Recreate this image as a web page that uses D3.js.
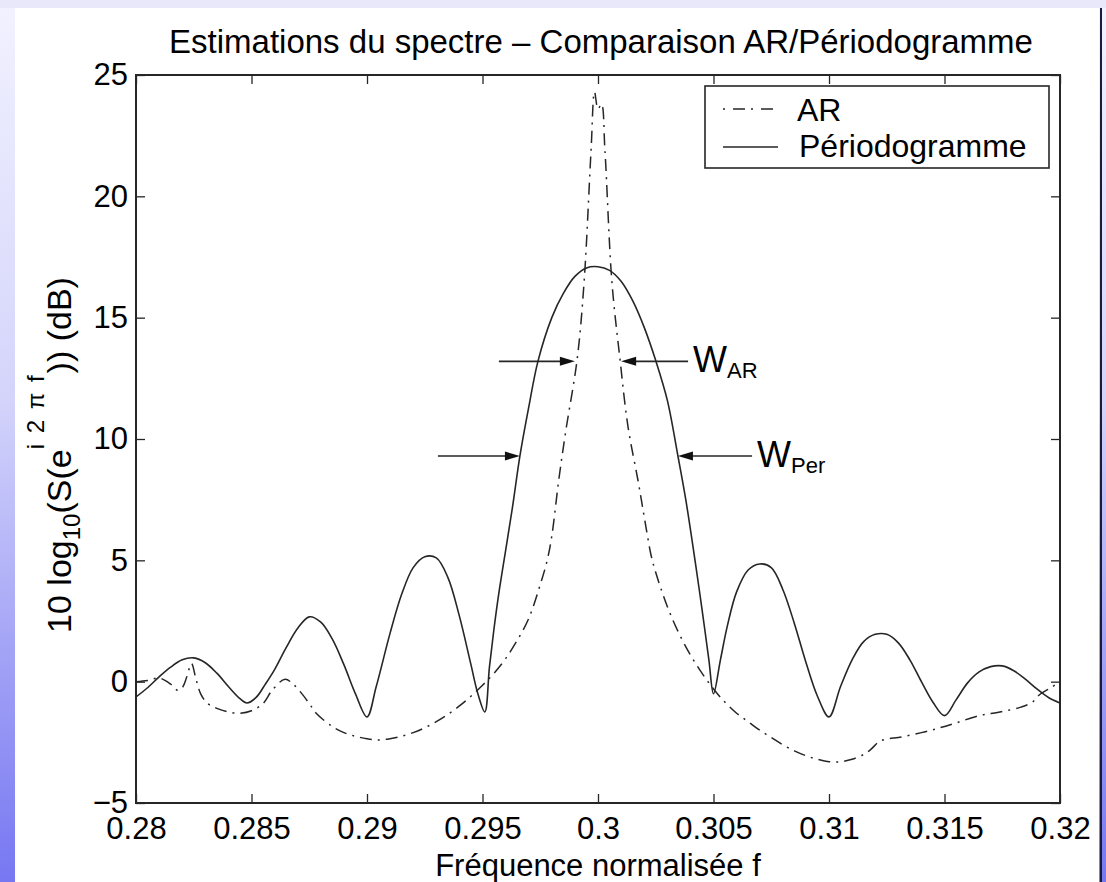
<!DOCTYPE html>
<html><head><meta charset="utf-8">
<script src="https://cdn.jsdelivr.net/npm/d3@7"></script>
<style>body{margin:0;background:#fff;overflow:hidden}svg{display:block}</style>
</head><body>
<svg id="chart" width="1106" height="882"></svg>
<script>
// ---------------- data ----------------
const perFreq = [0.2800,0.2805,0.2810,0.2815,0.2820,0.2825,0.2830,0.2835,0.2840,0.2845,0.2848,0.2852,0.2856,0.2860,0.2865,0.2870,0.2875,0.2880,0.2885,0.2890,0.2895,0.2900,0.2904,0.2910,0.2915,0.2920,0.2925,0.2930,0.2935,0.2940,0.2945,0.2948,0.2951,0.2953,0.2955,0.2957,0.2960,0.2963,0.29662,0.2970,0.2974,0.2980,0.2985,0.2990,0.2995,0.3000,0.3005,0.3010,0.3015,0.3020,0.30251,0.3030,0.30346,0.3038,0.3042,0.3045,0.3048,0.3050,0.3053,0.3056,0.3060,0.3065,0.3070,0.3075,0.3080,0.3085,0.3090,0.3095,0.3100,0.3105,0.3110,0.3115,0.3120,0.3125,0.3130,0.3135,0.3140,0.3145,0.3150,0.3155,0.3160,0.3165,0.3170,0.3175,0.3180,0.3185,0.3190,0.3195,0.3200];
const perDb = [-0.63,-0.25,0.2,0.6,0.9,0.98,0.78,0.35,-0.2,-0.7,-0.88,-0.65,-0.1,0.5,1.4,2.2,2.67,2.45,1.75,0.7,-0.5,-1.45,-0.2,2.0,3.6,4.7,5.15,5.1,4.3,2.7,0.7,-0.5,-1.25,0.6,2.2,3.6,5.4,7.2,9.3,11.3,13.2,15.0,16.0,16.7,17.05,17.1,16.95,16.5,15.7,14.6,13.2,11.6,9.3,7.5,5.0,3.0,0.9,-0.5,0.9,2.3,3.7,4.6,4.85,4.7,3.8,2.4,0.8,-0.6,-1.45,-0.2,0.9,1.65,1.95,1.95,1.6,0.9,0.0,-0.85,-1.4,-0.75,-0.05,0.4,0.62,0.65,0.45,0.1,-0.3,-0.65,-0.88];

const arFreq = [0.2800,0.2805,0.2810,0.2815,0.2818,0.2820,0.2822,0.2824,0.2826,0.2828,0.2831,0.2835,0.2840,0.2845,0.2850,0.2855,0.2859,0.28645,0.2868,0.2871,0.2875,0.2878,0.2885,0.2890,0.2895,0.2900,0.2905,0.2910,0.2915,0.2920,0.2925,0.2930,0.2935,0.2940,0.2945,0.2950,0.2955,0.2960,0.2965,0.2970,0.2975,0.2978,0.2980,0.2983,0.2986,0.2991,0.2994,0.2997,0.29985,0.3000,0.30015,0.3003,0.3006,0.30095,0.3013,0.30173,0.3020,0.3023,0.3025,0.3030,0.3035,0.3040,0.3045,0.3050,0.3055,0.3060,0.3065,0.3070,0.3075,0.3080,0.3085,0.3090,0.3095,0.3100,0.3105,0.3110,0.3115,0.3118,0.3122,0.3126,0.3130,0.3140,0.3148,0.3155,0.3165,0.3174,0.3183,0.3188,0.3191,0.3196,0.3200];
const arDb = [0.0,0.05,0.15,-0.1,-0.35,-0.25,0.2,0.75,0.1,-0.5,-0.9,-1.1,-1.25,-1.3,-1.2,-0.9,-0.35,0.1,-0.1,-0.4,-0.9,-1.3,-1.85,-2.1,-2.25,-2.35,-2.4,-2.35,-2.25,-2.1,-1.9,-1.65,-1.35,-1.0,-0.6,-0.15,0.35,0.95,1.7,2.6,4.0,5.0,6.0,8.3,10.3,13.3,16.5,21.9,24.3,23.6,23.8,21.9,16.5,13.3,10.5,8.3,6.8,5.2,4.5,3.1,2.0,1.1,0.35,-0.3,-0.85,-1.3,-1.65,-2.0,-2.3,-2.6,-2.85,-3.05,-3.2,-3.3,-3.3,-3.2,-3.0,-2.8,-2.45,-2.35,-2.3,-2.1,-1.9,-1.7,-1.4,-1.25,-1.05,-0.85,-0.55,-0.25,0.0];

const xTicks = [0.28,0.285,0.29,0.295,0.3,0.305,0.31,0.315,0.32];
const xTickLabels = ["0.28","0.285","0.29","0.295","0.3","0.305","0.31","0.315","0.32"];
const yTicks = [-5,0,5,10,15,20,25];
const seriesNames = ["AR","Périodogramme"];

// width annotations (level in dB, arrowhead and tail frequencies)
const annLevel = [13.2, 9.3];
const annHeadL = [0.2990, 0.29662];
const annTailL = [0.29571, 0.29307];
const annHeadR = [0.3010, 0.30346];
const annTailR = [0.30390, 0.30667];
const annMain = ["W","W"];
const annSub = ["AR","Per"];

// ---------------- drawing ----------------
const W = 1106, H = 882;
const svg = d3.select("#chart");
const FONT = "'Liberation Sans', Arial, Helvetica, sans-serif";
const INK = "#262626";

// slide background
const defs = svg.append("defs");
const g1 = defs.append("linearGradient").attr("id","side").attr("x1",0).attr("y1",0).attr("x2",0).attr("y2",1);
g1.append("stop").attr("offset","0%").attr("stop-color","#f2f2ff");
g1.append("stop").attr("offset","45%").attr("stop-color","#d4d4fb");
g1.append("stop").attr("offset","100%").attr("stop-color","#7777f2");
svg.append("rect").attr("x",0).attr("y",0).attr("width",W).attr("height",H).attr("fill","url(#side)");
svg.append("rect").attr("x",0).attr("y",0).attr("width",W).attr("height",8).attr("fill","#e8e8fa");
svg.append("rect").attr("x",15).attr("y",8).attr("width",1084).attr("height",H-8).attr("fill","#ffffff");
svg.append("line").attr("x1",1101).attr("x2",1101).attr("y1",8).attr("y2",H).attr("stroke","#1a1a3a").attr("stroke-width",2);

const x = d3.scaleLinear().domain([0.28,0.32]).range([136,1060]);
const y = d3.scaleLinear().domain([-5,25]).range([803,75]);

defs.append("clipPath").attr("id","plotclip").append("rect")
  .attr("x",136).attr("y",75).attr("width",924).attr("height",728);

// axes (ticks inside, MATLAB box)
function styleAxis(g){
  g.select(".domain").remove();
  g.selectAll(".tick line").attr("stroke",INK).attr("stroke-width",1.3);
  g.selectAll("text").attr("font-family",FONT).attr("font-size",31).attr("fill","#000");
}
svg.append("g").attr("transform","translate(0,803)")
  .call(d3.axisBottom(x).tickValues(xTicks).tickFormat((d,i)=>xTickLabels[i]).tickSizeInner(-9).tickSizeOuter(0).tickPadding(14))
  .call(styleAxis);
svg.append("g").attr("transform","translate(0,75)")
  .call(d3.axisTop(x).tickValues(xTicks).tickFormat("").tickSizeInner(-9).tickSizeOuter(0))
  .call(styleAxis);
svg.append("g").attr("transform","translate(136,0)")
  .call(d3.axisLeft(y).tickValues(yTicks).tickSizeInner(-9).tickSizeOuter(0).tickPadding(8))
  .call(styleAxis);
svg.append("g").attr("transform","translate(1060,0)")
  .call(d3.axisRight(y).tickValues(yTicks).tickFormat("").tickSizeInner(-9).tickSizeOuter(0))
  .call(styleAxis);

// frame
svg.append("rect").attr("x",x(0.28)).attr("y",y(25)).attr("width",x(0.32)-x(0.28)).attr("height",y(-5)-y(25))
  .attr("fill","none").attr("stroke",INK).attr("stroke-width",2);

// curves
const line = d3.line().x(d=>x(d[0])).y(d=>y(d[1])).curve(d3.curveCatmullRom.alpha(0.5));
const perData = perFreq.map((f,i)=>[f,perDb[i]]);
const arData = arFreq.map((f,i)=>[f,arDb[i]]);
const plot = svg.append("g").attr("clip-path","url(#plotclip)");
plot.append("path").attr("d",line(perData)).attr("fill","none").attr("stroke",INK).attr("stroke-width",1.6);
plot.append("path").attr("d",line(arData)).attr("fill","none").attr("stroke",INK).attr("stroke-width",1.5)
  .attr("stroke-dasharray","12,6,2,6");

// annotations: arrows
function arrow(xTail, xHead, yv){
  const dir = Math.sign(xHead - xTail);
  svg.append("line").attr("x1",xTail).attr("x2",xHead - dir*12).attr("y1",yv).attr("y2",yv)
    .attr("stroke",INK).attr("stroke-width",1.6);
  svg.append("path").attr("d",`M${xHead},${yv} L${xHead-dir*15},${yv-4.5} L${xHead-dir*15},${yv+4.5} Z`).attr("fill","#111");
}
annLevel.forEach((lv,i)=>{
  const yv = y(lv);
  arrow(x(annTailL[i]), x(annHeadL[i]), yv);
  arrow(x(annTailR[i]), x(annHeadR[i]), yv);
  const t = svg.append("text").attr("x",x(annTailR[i])+5).attr("y",yv+11)
    .attr("font-family",FONT).attr("font-size",36).attr("fill","#000");
  t.append("tspan").text(annMain[i]);
  t.append("tspan").attr("font-size",22).attr("dy",6).text(annSub[i]);
});

// legend
const lg = svg.append("g");
lg.append("rect").attr("x",705).attr("y",86).attr("width",344).attr("height",82)
  .attr("fill","#fff").attr("stroke",INK).attr("stroke-width",1.6);
lg.append("line").attr("x1",723).attr("x2",778).attr("y1",109).attr("y2",109)
  .attr("stroke",INK).attr("stroke-width",1.5).attr("stroke-dasharray","2,8,12,6");
lg.append("line").attr("x1",723).attr("x2",778).attr("y1",147).attr("y2",147)
  .attr("stroke",INK).attr("stroke-width",1.6);
lg.append("text").attr("x",797).attr("y",120.5).attr("font-family",FONT).attr("font-size",32).text(seriesNames[0]);
lg.append("text").attr("x",799).attr("y",157).attr("font-family",FONT).attr("font-size",32).text(seriesNames[1]);

// title & labels
svg.append("text").attr("x",601).attr("y",53).attr("text-anchor","middle")
  .attr("font-family",FONT).attr("font-size",33).text("Estimations du spectre – Comparaison AR/Périodogramme");
svg.append("text").attr("x",598).attr("y",876).attr("text-anchor","middle")
  .attr("font-family",FONT).attr("font-size",31).text("Fréquence normalisée f");

const yl = svg.append("text").attr("transform","translate(71,455) rotate(-90)").attr("text-anchor","middle")
  .attr("font-family",FONT).attr("font-size",34);
yl.append("tspan").text("10 log");
yl.append("tspan").attr("font-size",24).attr("dy",9).text("10");
yl.append("tspan").attr("dy",-9).text("(S(e");
yl.append("tspan").attr("font-size",24).attr("dy",-27).attr("letter-spacing",2).text("i 2 π f");
yl.append("tspan").attr("dy",27).text(")) (dB)");
</script>
</body></html>
